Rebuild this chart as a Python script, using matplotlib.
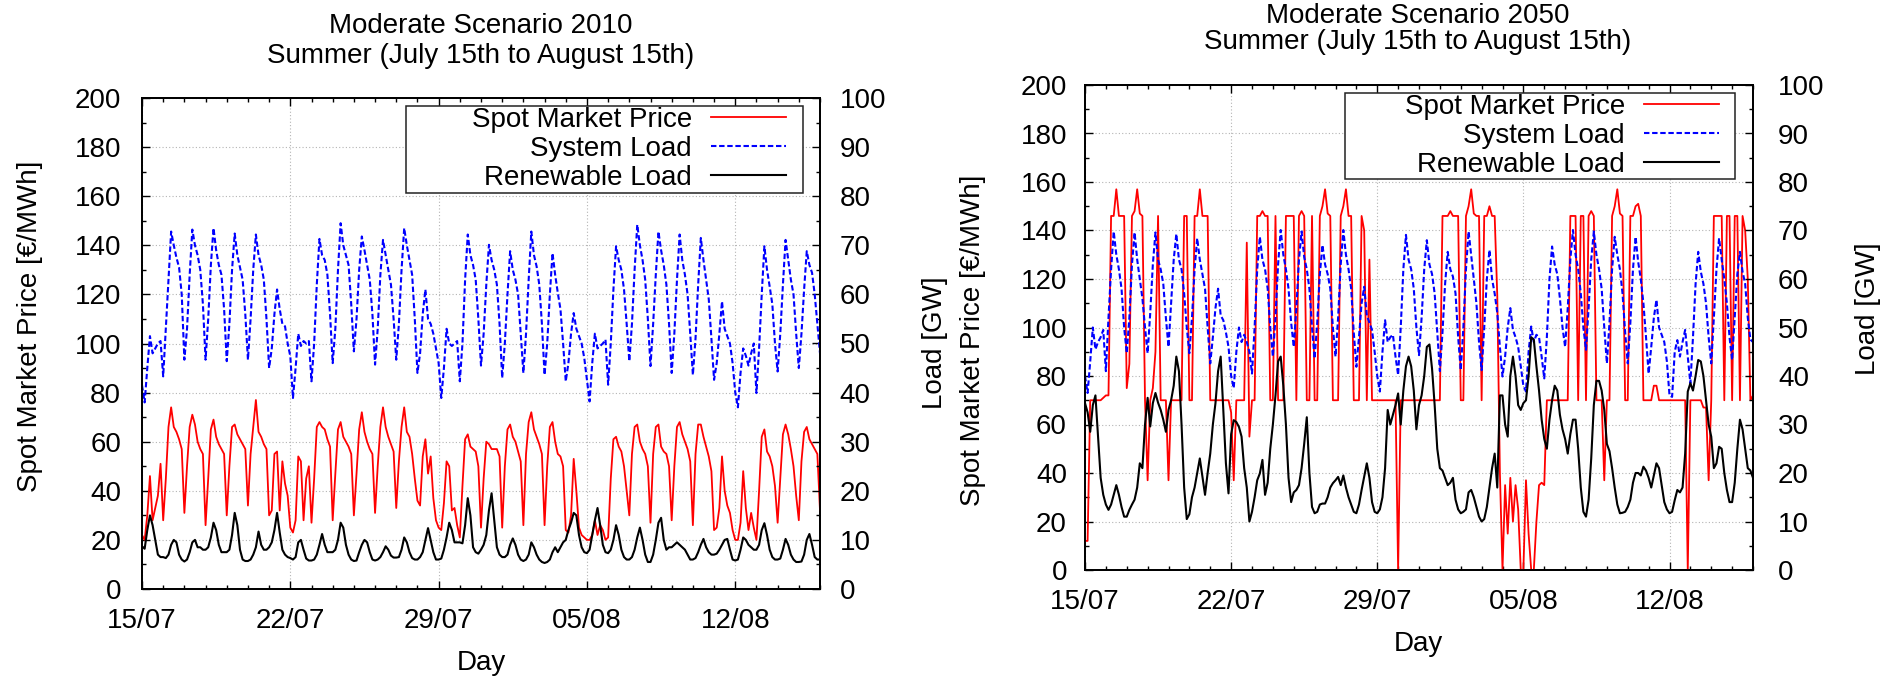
import numpy as np
import matplotlib
matplotlib.use("Agg")
import matplotlib.pyplot as plt
from matplotlib.patches import Rectangle
from matplotlib.ticker import MultipleLocator, FixedLocator

plt.rcParams['font.family'] = ['Liberation Sans', 'DejaVu Sans']

# ---------------- data ----------------
# x axis: days since 15/07, samples every 3 hours (8 per day) + final point
STEP_DAYS = 0.125
tick_days = [0, 7, 14, 21, 28]
tick_labels = ["15/07", "22/07", "29/07", "05/08", "12/08"]
series_labels = ["Spot Market Price", "System Load", "Renewable Load"]
titles = [("Moderate Scenario 2010", "Summer (July 15th to August 15th)"),
          ("Moderate Scenario 2050", "Summer (July 15th to August 15th)")]

# 2010 spot market price [EUR/MWh]
price_2010 = [
    [22, 20, 30, 46, 28, 33, 38, 51], [28, 45, 66, 74, 66, 64, 61, 57],
    [31, 50, 66, 71, 67, 60, 57, 55], [26, 45, 65, 69, 62, 59, 57, 55],
    [30, 50, 66, 67, 63, 61, 59, 57], [34, 55, 66, 77, 64, 62, 59, 57],
    [30, 32, 55, 56, 32, 52, 43, 38], [25, 23, 28, 54, 52, 28, 45, 50],
    [27, 45, 66, 68, 66, 65, 61, 58], [28, 47, 65, 68, 62, 60, 58, 55],
    [30, 47, 65, 72, 64, 60, 57, 55], [31, 50, 66, 74, 66, 62, 59, 56],
    [33, 52, 66, 74, 64, 62, 55, 45], [36, 34, 54, 61, 47, 54, 37, 28],
    [25, 24, 35, 52, 50, 32, 33, 26], [21, 42, 61, 63, 58, 57, 56, 50],
    [25, 45, 60, 59, 57, 57, 57, 54], [25, 50, 65, 67, 62, 60, 56, 52],
    [26, 55, 68, 72, 65, 62, 59, 55], [26, 50, 66, 68, 60, 55, 54, 50],
    [24, 23, 30, 53, 40, 25, 22, 21], [20, 20, 22, 28, 22, 26, 24, 20],
    [21, 45, 61, 62, 58, 56, 50, 40], [30, 55, 66, 67, 60, 57, 55, 50],
    [27, 55, 66, 67, 58, 56, 55, 50], [28, 50, 66, 68, 63, 60, 57, 52],
    [26, 55, 67, 67, 62, 58, 54, 48], [24, 25, 33, 54, 40, 34, 31, 24],
    [20, 20, 27, 48, 33, 24, 31, 25], [20, 40, 62, 65, 56, 54, 50, 42],
    [27, 45, 63, 67, 63, 57, 50, 38], [28, 52, 64, 66, 61, 59, 57, 55],
]
price_2010_end = 32

# 2010 system load [GW]
sysload_2010 = [
    [41.5, 38, 45, 51.5, 48, 49, 50, 50.5], [43.3, 53, 63, 72.8, 70, 67.5, 65.5, 60],
    [46.7, 53, 64, 73.2, 70, 68, 65, 58], [46.7, 55, 66, 73.5, 69, 66, 64, 57],
    [46.4, 54, 65, 72.4, 68, 65.5, 63, 56], [46.7, 55, 65, 72.2, 68, 66, 63, 55],
    [45, 49, 56, 61, 57, 54, 53.5, 50], [47.4, 38.9, 45, 52, 49.5, 50.5, 50, 50.5],
    [42.3, 50, 62, 71.3, 68, 67, 64, 56], [46, 53, 65, 74.5, 70, 68, 66, 58],
    [48.4, 55, 65, 71.8, 69, 66, 63, 56], [45.7, 53, 64, 71.1, 68, 65, 62, 55],
    [46.7, 54, 65, 73.5, 70, 67, 64, 55], [44, 48, 56, 61, 55, 54, 52, 49],
    [46, 38.9, 45, 53, 50, 49.5, 50, 50.5], [42.3, 50, 63, 72.2, 68, 66, 63, 55],
    [45.5, 52, 62, 70.1, 67, 65, 62, 54], [43, 50, 60, 68.8, 65, 63, 60, 52],
    [44, 52, 63, 72.8, 68, 65.7, 62, 54], [43.6, 50, 60, 68.4, 64, 60.3, 57, 50],
    [42.3, 46, 52, 56.2, 53, 51.5, 50, 47], [42.6, 38.2, 46, 52, 49, 49.5, 50, 50.8],
    [41.6, 50, 61, 69.8, 67, 65, 61, 54], [46.4, 54, 65, 74.2, 70, 67, 63, 55],
    [45.4, 54, 64, 72.8, 69, 66, 62, 54], [44, 52, 63, 72.2, 67, 64, 60, 52],
    [43.6, 51, 62, 71.5, 67, 63, 59, 51], [42.6, 46, 52, 58.6, 53, 51.5, 50, 46],
    [40, 37, 44, 49, 47.5, 45.5, 48, 50], [39.9, 49, 60, 69.8, 65, 61.6, 58, 50],
    [44.3, 52, 62, 71.1, 67, 63, 60, 52], [45, 52, 61, 68.8, 66, 64.4, 60, 54],
]
sysload_2010_end = 48

# 2010 renewable load [GW]
renew_2010 = [
    [8.7, 8.2, 12, 15, 13, 10, 7, 6.5], [6.5, 6.3, 7, 9, 10, 9.5, 7, 6],
    [5.6, 6, 7.5, 9.5, 10, 8.5, 8.5, 8], [8, 8.5, 10.5, 13.5, 12, 9, 7.5, 7.5],
    [7.5, 8, 11, 15.5, 13, 8, 6, 5.7], [5.7, 6, 7, 8.5, 11.7, 9, 8, 8],
    [8.5, 9.5, 12, 15.5, 11.5, 8, 7, 6.5], [6.3, 6, 6.5, 9.5, 10, 8, 6.2, 5.8],
    [5.8, 6, 7, 9, 11.2, 9, 7.5, 7.5], [7.5, 8, 10, 13.5, 12.5, 9, 7, 6],
    [5.7, 5.8, 7.5, 9, 10, 9.5, 7.5, 6], [5.8, 6, 6.5, 7.5, 8.7, 8, 6.8, 6.4],
    [6.4, 6.5, 8, 10.5, 9.5, 7.5, 6.3, 6], [6, 6.5, 7.5, 10, 12.4, 10, 7.5, 6],
    [6, 6.2, 8, 10.5, 13.5, 12, 9.5, 9.5], [9.5, 9.3, 13, 18.5, 15, 8.5, 7.5, 7.2],
    [8, 9, 11, 16, 19.5, 14, 8.5, 7], [6.5, 6.5, 7, 9, 10.3, 9, 7, 6],
    [5.7, 6, 7, 9.5, 8.5, 7, 6, 5.5], [5.3, 5.5, 6, 7.5, 8.5, 7.5, 8.5, 9.5],
    [10, 12, 13.5, 15.5, 15, 11, 8.5, 7.5], [7.3, 8, 11, 14, 16.5, 13, 9, 7.5],
    [7.3, 8, 10, 13, 11, 8, 6.5, 6], [6, 6.5, 8, 10.5, 12.5, 10, 7, 5.5],
    [5.5, 7, 10, 13.5, 14.5, 10, 8, 8.5], [8.5, 9, 9.5, 9, 8.5, 8, 7, 6],
    [6, 6.3, 7.5, 9, 10.2, 8.5, 7.5, 7], [7, 7.2, 8, 9, 10, 10.2, 8, 6],
    [5.8, 6, 8, 10.5, 10, 9, 8.5, 8], [8, 9, 12, 13.4, 11, 8, 6.5, 6],
    [6, 6.2, 8, 10.2, 9, 7, 6, 5.5], [5.5, 5.6, 7, 10, 11.2, 9, 6.5, 6],
]
renew_2010_end = 6

# 2050 spot market price [EUR/MWh]
price_2050 = [
    [12, 12, 70, 70, 70, 70, 70, 71], [72, 72, 146, 146, 157, 146, 146, 146],
    [75, 85, 146, 148, 157, 147, 146, 70], [37, 70, 75, 90, 146, 70, 70, 70],
    [37, 70, 70, 70, 70, 70, 146, 146], [70, 70, 146, 146, 157, 146, 146, 146],
    [70, 70, 70, 70, 70, 70, 70, 70], [65, 37, 70, 70, 70, 70, 135, 55],
    [70, 70, 146, 146, 148, 146, 146, 70], [70, 146, 70, 70, 70, 146, 146, 146],
    [146, 70, 146, 148, 146, 70, 70, 146], [70, 70, 146, 150, 157, 147, 146, 70],
    [70, 70, 146, 150, 157, 146, 146, 70], [70, 70, 146, 140, 70, 128, 70, 70],
    [70, 70, 70, 70, 70, 70, 70, 70], [0, 70, 70, 70, 70, 70, 70, 70],
    [70, 70, 70, 70, 70, 70, 70, 70], [70, 146, 146, 146, 148, 146, 146, 146],
    [70, 70, 146, 150, 157, 147, 146, 146], [70, 146, 146, 150, 146, 146, 113, 40],
    [0, 35, 15, 38, 20, 35, 25, 0], [0, 37, 15, 0, 0, 20, 35, 36],
    [35, 70, 70, 70, 70, 70, 70, 70], [70, 70, 146, 146, 146, 70, 146, 146],
    [70, 146, 148, 146, 70, 70, 70, 37], [70, 70, 146, 150, 157, 147, 146, 70],
    [70, 146, 146, 150, 151, 146, 70, 70], [70, 70, 76, 76, 70, 70, 70, 70],
    [70, 70, 70, 70, 70, 70, 70, 0], [70, 70, 70, 70, 70, 67, 67, 37],
    [70, 146, 146, 146, 146, 70, 146, 146], [70, 146, 146, 70, 146, 140, 120, 70],
]
price_2050_end = 72

# 2050 system load [GW]
sysload_2050 = [
    [40, 36.5, 43, 50, 45.5, 47, 48, 49.5], [41, 52, 62, 69.8, 65, 62, 58, 50],
    [44.7, 52, 63, 69.6, 64, 60, 56, 50], [44.7, 53, 63, 69.6, 64, 62, 59, 52],
    [46, 55, 64, 69.3, 64, 62, 57, 50], [44.7, 52, 62, 68.4, 64, 61, 58, 50],
    [42.6, 48, 54, 58, 52.5, 51.5, 49, 46], [40, 37.5, 45, 50, 47, 48.5, 47, 45],
    [40.5, 50, 62, 68.7, 64, 62, 58, 50], [44, 52, 63, 70.1, 65, 62, 58, 51],
    [46, 54, 64, 69.8, 64.5, 62, 58, 50], [43.6, 51, 61, 67, 63, 61, 58, 50],
    [44, 52, 63, 70.1, 65, 62, 58, 49], [41.9, 48, 55, 58.4, 52.5, 51, 49.5, 45],
    [40, 36.8, 45, 51.5, 47, 48, 48.5, 44], [40.2, 50, 62, 69.1, 64, 62, 58, 50],
    [44.3, 52, 62, 68, 63, 61, 57, 49], [41, 49, 59, 65.6, 62, 60.5, 57, 48],
    [41.2, 50, 62, 69.8, 65, 60, 55, 47], [41.2, 50, 60, 66, 60, 57, 53, 46],
    [39.9, 44, 50, 54, 49.5, 48, 46, 42], [38, 36.8, 45, 50.2, 47, 48.5, 48, 44],
    [39.5, 48, 60, 66.7, 63, 61, 56, 50], [46, 54, 64, 70.1, 65, 62, 57, 50],
    [45.4, 54, 64, 69.8, 65, 62, 58, 50], [42.6, 51, 62, 68.7, 65, 62, 57, 49],
    [42.6, 51, 62, 68.7, 63.5, 60, 55, 48], [40.5, 46, 52, 55.7, 50, 48.5, 47, 43],
    [36, 35.7, 45, 47.4, 44, 47, 49.5, 44], [38.5, 48, 59, 65.6, 61.5, 59, 55, 48],
    [42.6, 52, 62, 68.4, 64, 60, 55, 48], [43.3, 52, 61, 65.6, 61.5, 59, 52, 47.5],
]
sysload_2050_end = 47

# 2050 renewable load [GW]
renew_2050 = [
    [34.4, 32.5, 28.5, 34, 36, 27.5, 19, 15.5], [13.5, 12.4, 13.5, 15.5, 17.5, 15.5, 13, 11],
    [11, 12.4, 13.5, 14.5, 17, 22, 21, 30], [35.5, 29.6, 34.4, 36.5, 34.5, 33, 31, 28.5],
    [33, 35, 38, 44, 41, 30, 17, 10.5], [11.5, 15, 17, 20, 23, 19.2, 15.5, 20],
    [24, 30, 34.4, 41, 44, 33, 22, 15.8], [28, 30.9, 30.5, 29.5, 27.5, 21, 17, 10],
    [12, 15, 18.5, 19.9, 22.7, 15.5, 18, 25], [30, 36, 43, 44, 38, 30, 19, 14],
    [16, 16.5, 17.5, 21, 26, 31.5, 20, 13], [11.7, 12, 13.5, 13.7, 13.7, 15, 17, 17.9],
    [18.5, 19.2, 17.5, 19.5, 17, 15, 13.5, 12], [11.7, 13.5, 16.5, 19.2, 22, 19, 14, 12],
    [11.7, 12.5, 15, 21, 33, 30, 32, 34], [36.4, 30, 37, 42, 44, 42, 37, 29],
    [34, 36, 40, 46, 46.5, 41.5, 34, 25], [21, 20.5, 19, 17.5, 18, 19, 14.5, 12.5],
    [11.7, 12, 12.5, 16, 16.5, 15, 13, 11], [10, 10.5, 13, 17, 21, 24, 17, 36],
    [36, 30, 27.5, 40, 44, 40, 34, 33], [34.4, 35, 40, 48, 47.5, 42, 37, 31],
    [27, 25, 31, 35, 38, 37, 32, 29], [27, 24, 28, 31, 31, 25, 17, 12],
    [11, 14.5, 23, 34, 39, 39, 37, 33], [26, 24.5, 21, 17, 13.5, 11.7, 11.8, 12],
    [13, 14.5, 18, 20, 20, 19.5, 21.3, 20.5], [19, 17, 19.5, 22, 21, 17.5, 14, 12.5],
    [11.7, 12, 14.4, 16.5, 16, 17, 24, 36.8], [38.5, 37, 40, 43.3, 43, 40, 35, 30],
    [27.5, 21, 22, 25.4, 25, 20, 16.5, 14], [14, 18, 25, 31, 29, 25, 21, 20.5],
]
renew_2050_end = 19


def flat(rows, end):
    return np.append(np.asarray(rows, dtype=float).ravel(), end)


W, H = 1894, 677
fig = plt.figure(figsize=(W / 100, H / 100), dpi=100)


def fx(px):
    return px / W


def fy(py):
    return 1 - py / H


def panel(box, price, sysload, renew, title, title_y, title_x,
          ylab_l, ylab_r, day_base, pads, legend_box, legend_anchor):
    x0, y0, x1, y1 = box
    ax = fig.add_axes([fx(x0), fy(y1), fx(x1 - x0), (y1 - y0) / H])
    ax2 = ax.twinx()
    t = np.arange(len(price)) * STEP_DAYS
    l1, = ax.plot(t, price, color='#ff0000', lw=1.3, zorder=3)
    l2, = ax2.plot(t, sysload, color='#0000ff', lw=1.5, dashes=(2.6, 1.3))
    l3, = ax2.plot(t, renew, color='black', lw=1.5)

    ax.set_xlim(0, 32)
    ax.set_ylim(0, 200)
    ax2.set_ylim(0, 100)
    ax.xaxis.set_major_locator(FixedLocator(tick_days))
    ax.set_xticklabels(tick_labels)
    ax.xaxis.set_minor_locator(MultipleLocator(1))
    ax.yaxis.set_major_locator(MultipleLocator(20))
    ax.yaxis.set_minor_locator(MultipleLocator(10))
    ax2.yaxis.set_major_locator(MultipleLocator(10))
    ax2.yaxis.set_minor_locator(MultipleLocator(5))

    for a in (ax, ax2):
        for s in a.spines.values():
            s.set_linewidth(1.3)
    ax.tick_params(which='both', direction='in', top=True, right=False,
                   width=1.0, labelsize=20, colors='black')
    ax.tick_params(which='major', length=5.8)
    ax.tick_params(which='minor', length=2.9)
    ax.tick_params(axis='x', which='major', pad=pads[0])
    ax.tick_params(axis='y', which='major', pad=pads[1])
    ax2.tick_params(axis='y', which='both', direction='in', width=1.0,
                    labelsize=20)
    ax2.tick_params(axis='y', which='major', length=5.8, pad=pads[2])
    ax2.tick_params(axis='y', which='minor', length=2.9)

    ax.grid(True, which='major', color='#b4b4b4', linestyle=(0, (1, 2)),
            lw=0.8)
    ax.set_axisbelow(True)

    # titles
    fig.text(fx(title_x), fy(title_y[0]), title[0], ha='center',
             va='baseline', fontsize=20)
    fig.text(fx(title_x), fy(title_y[1]), title[1], ha='center',
             va='baseline', fontsize=20)

    # axis labels
    ax.set_xlabel("Day", fontsize=20)
    ax.xaxis.set_label_coords(fx(title_x), fy(day_base), transform=fig.transFigure)
    ax.xaxis.label.set_va('baseline')
    ax.set_ylabel("Spot Market Price [€/MWh]", fontsize=20)
    ax.yaxis.set_label_coords(fx(ylab_l[0]), fy(ylab_l[1]), transform=fig.transFigure)
    ax.yaxis.label.set_va('center')
    ax2.set_ylabel("Load [GW]", fontsize=20)
    ax2.yaxis.set_label_coords(fx(ylab_r[0]), fy(ylab_r[1]), transform=fig.transFigure)
    ax2.yaxis.label.set_va('center')

    # legend
    bx0, by0, bx1, by1 = legend_box
    fig.patches.append(Rectangle((fx(bx0), fy(by1)), fx(bx1 - bx0), (by1 - by0) / H,
                                 transform=fig.transFigure, facecolor='white',
                                 edgecolor='#222222', lw=1.1, zorder=4))
    fig.legend([l1, l2, l3], series_labels, loc='upper right',
               bbox_to_anchor=(fx(legend_anchor[0]), fy(legend_anchor[1])),
               bbox_transform=fig.transFigure, frameon=False, markerfirst=False,
               fontsize=20, handlelength=2.7, handletextpad=0.68,
               labelspacing=0.1, borderpad=0, borderaxespad=0).set_zorder(5)


panel((142, 98, 820, 589),
      flat(price_2010, price_2010_end), flat(sysload_2010, sysload_2010_end),
      flat(renew_2010, renew_2010_end), titles[0], (33, 63), 481,
      (30, 326), (935, 343), 670, (13.5, 15, 14),
      (406, 106, 803, 193), (786, 107))

panel((1085, 85, 1753, 570),
      flat(price_2050, price_2050_end), flat(sysload_2050, sysload_2050_end),
      flat(renew_2050, renew_2050_end), titles[1], (23, 49), 1418,
      (973, 340), (1868, 309), 651, (14, 13, 18),
      (1345, 93, 1735, 179), (1719, 94))

fig.savefig("out.png", dpi=100)
